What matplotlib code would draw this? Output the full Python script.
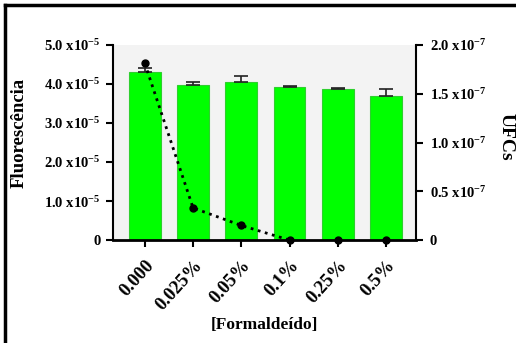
import matplotlib.pyplot as plt
from matplotlib.lines import Line2D

# dados
categorias = ['0.000', '0.025%', '0.05%', '0.1%', '0.25%', '0.5%']
fluorescencia = [4.30e-5, 3.97e-5, 4.05e-5, 3.91e-5, 3.87e-5, 3.69e-5]
erro_fluor = [0.12e-5, 0.07e-5, 0.15e-5, 0.03e-5, 0.02e-5, 0.18e-5]
ufcs = [1.81e-7, 0.33e-7, 0.15e-7, 0.0, 0.0, 0.0]

ticks_esq = [0, 1e-5, 2e-5, 3e-5, 4e-5, 5e-5]
rot_esq = ['0', '1.0 x10$^{-5}$', '2.0 x10$^{-5}$', '3.0 x10$^{-5}$', '4.0 x10$^{-5}$', '5.0 x10$^{-5}$']
ticks_dir = [0, 0.5e-7, 1.0e-7, 1.5e-7, 2.0e-7]
rot_dir = ['0', '0.5 x10$^{-7}$', '1.0 x10$^{-7}$', '1.5 x10$^{-7}$', '2.0 x10$^{-7}$']

plt.rcParams['font.family'] = ['Liberation Serif', 'DejaVu Serif']
plt.rcParams['font.weight'] = 'bold'
plt.rcParams['mathtext.fontset'] = 'custom'
plt.rcParams['mathtext.rm'] = 'Liberation Serif:bold'
plt.rcParams['mathtext.default'] = 'rm'

fig = plt.figure(figsize=(5.16, 3.43), dpi=100)
ax = fig.add_axes([0.219, 0.300, 0.587, 0.569])
ax.set_facecolor('#f3f3f3')

x = list(range(len(categorias)))
ax.bar(x, fluorescencia, width=0.66, color='#00ff00', edgecolor='#2fcf2f', linewidth=0.8, zorder=2)
ax.errorbar(x, fluorescencia, yerr=[[0] * len(x), erro_fluor], fmt='none',
            ecolor='#222222', elinewidth=1.2, capsize=5, capthick=1.2, zorder=3)

ax.set_xlim(-0.66, 5.62)
ax.set_ylim(0, 5e-5)
ax.set_yticks(ticks_esq)
ax.set_yticklabels(rot_esq, fontsize=10.5, fontweight='bold')
ax.set_xticks(x)
ax.set_xticklabels(categorias, rotation=48, ha='right', rotation_mode='anchor',
                   fontsize=13.5, fontweight='bold')
ax.tick_params(axis='y', direction='out', length=5, width=1.5, pad=4)
ax.tick_params(axis='x', direction='out', length=5, width=1.5, pad=7)
ax.spines['top'].set_visible(False)
ax.spines['right'].set_visible(False)
ax.spines['left'].set_linewidth(1.5)
ax.spines['bottom'].set_linewidth(2)
ax.set_ylabel('Fluorescência', fontsize=13.5, fontweight='bold')
ax.yaxis.set_label_coords(-0.283, 0.55)
ax.set_xlabel('[Formaldeído]', fontsize=12.5, fontweight='bold')
ax.xaxis.set_label_coords(0.50, -0.395)

ax2 = ax.twinx()
ax2.plot(x[:4], ufcs[:4], linestyle=':', color='black', linewidth=2, zorder=4)
ax2.plot(x, ufcs, linestyle='none', marker='o', markersize=5, color='black',
         clip_on=False, zorder=5)
ax2.set_ylim(0, 2.0e-7)
ax2.set_yticks(ticks_dir)
ax2.set_yticklabels(rot_dir, fontsize=10.5, fontweight='bold')
ax2.tick_params(axis='y', direction='out', length=5, width=1.5, pad=5)
ax2.spines['top'].set_visible(False)
ax2.spines['left'].set_visible(False)
ax2.spines['bottom'].set_visible(False)
ax2.spines['right'].set_linewidth(1.5)
ax2.set_ylabel('UFCs', fontsize=14, fontweight='bold', rotation=270)
ax2.yaxis.set_label_coords(1.325, 0.53)

# moldura (apenas topo e esquerda visíveis)
fig.add_artist(Line2D([0.010, 1.0], [0.985, 0.985], color='black', linewidth=2.5,
                      transform=fig.transFigure))
fig.add_artist(Line2D([0.010, 0.010], [0.0, 0.985], color='black', linewidth=2.5,
                      transform=fig.transFigure))

fig.savefig('out.png', dpi=100)
